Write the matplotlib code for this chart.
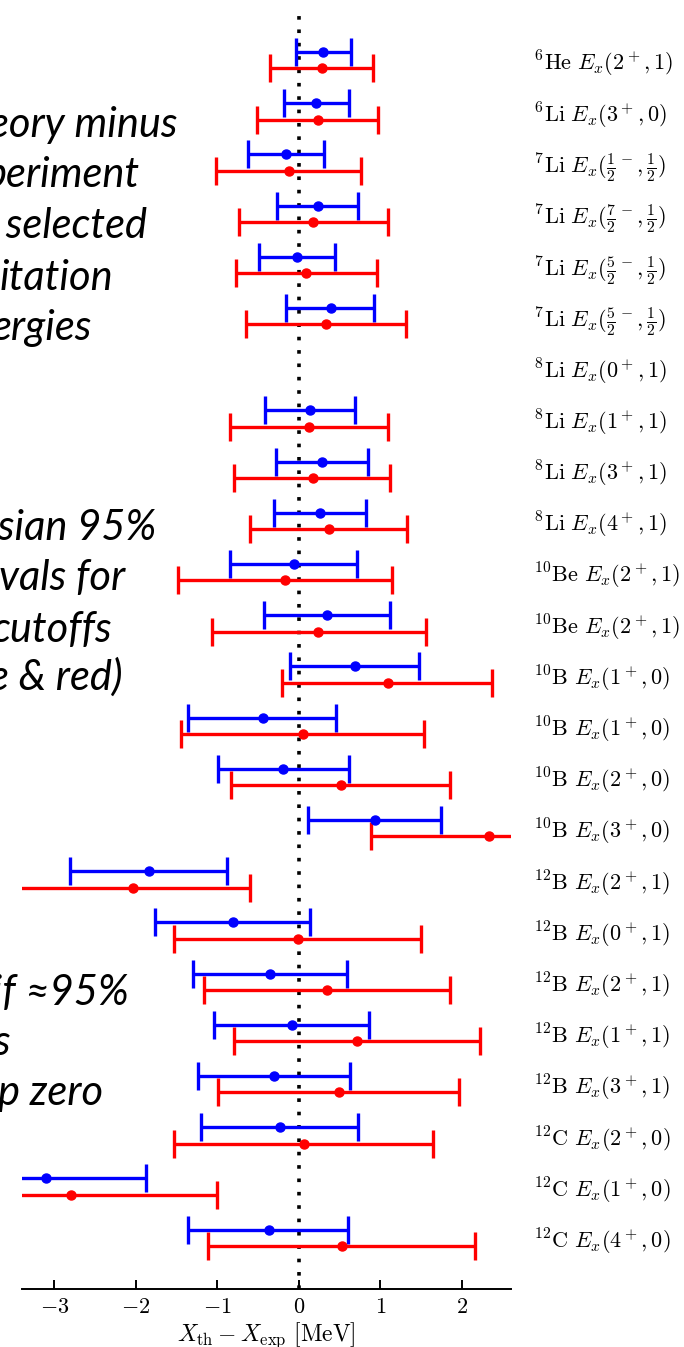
import matplotlib

matplotlib.use("Agg")
import matplotlib.pyplot as plt
import numpy as np

plt.rcParams["mathtext.fontset"] = "cm"

# states, top to bottom
nuclei = ["6He", "6Li", "7Li", "7Li", "7Li", "7Li", "8Li", "8Li", "8Li", "8Li",
          "10Be", "10Be", "10B", "10B", "10B", "10B", "12B", "12B", "12B", "12B",
          "12B", "12C", "12C", "12C"]
spins = ["2^+", "3^+", r"\frac{1}{2}^-", r"\frac{7}{2}^-", r"\frac{5}{2}^-", r"\frac{5}{2}^-",
         "0^+", "1^+", "3^+", "4^+", "2^+", "2^+", "1^+", "1^+", "2^+", "3^+",
         "2^+", "0^+", "2^+", "1^+", "3^+", "2^+", "1^+", "4^+"]
isospins = ["1", "0", r"\frac{1}{2}", r"\frac{1}{2}", r"\frac{1}{2}", r"\frac{1}{2}",
            "1", "1", "1", "1", "1", "1", "0", "0", "0", "0",
            "1", "1", "1", "1", "1", "0", "0", "0"]

# theory minus experiment [MeV], median and 95% interval, two cutoffs
nan = np.nan
blue_mid = [0.30, 0.215, -0.16, 0.24, -0.02, 0.39, nan, 0.14, 0.28, 0.26, -0.06, 0.35,
            0.69, -0.44, -0.19, 0.94, -1.84, -0.81, -0.35, -0.08, -0.30, -0.235, -3.10, -0.37]
blue_lo = [-0.03, -0.18, -0.62, -0.27, -0.49, -0.16, nan, -0.42, -0.28, -0.30, -0.84, -0.43,
           -0.11, -1.36, -0.99, 0.11, -2.81, -1.77, -1.30, -1.04, -1.24, -1.20, -4.30, -1.36]
blue_hi = [0.64, 0.62, 0.31, 0.73, 0.44, 0.92, nan, 0.69, 0.85, 0.82, 0.71, 1.12,
           1.47, 0.46, 0.62, 1.75, -0.88, 0.14, 0.59, 0.86, 0.63, 0.73, -1.87, 0.61]
red_mid = [0.28, 0.23, -0.125, 0.18, 0.09, 0.33, nan, 0.125, 0.17, 0.37, -0.17, 0.24,
           1.09, 0.055, 0.52, 2.34, -2.04, -0.01, 0.35, 0.72, 0.49, 0.06, -2.80, 0.53]
red_lo = [-0.35, -0.51, -1.01, -0.73, -0.77, -0.65, nan, -0.85, -0.79, -0.60, -1.48, -1.07,
          -0.20, -1.44, -0.83, 0.89, -3.90, -1.53, -1.16, -0.79, -0.99, -1.53, -4.50, -1.11]
red_hi = [0.91, 0.97, 0.76, 1.09, 0.96, 1.31, nan, 1.10, 1.12, 1.33, 1.14, 1.56,
          2.37, 1.54, 1.86, 3.60, -0.60, 1.50, 1.85, 2.22, 1.97, 1.65, -1.00, 2.16]

xticks = [-3, -2, -1, 0, 1, 2]


def state_label(nucleus, spin, iso):
    mass = "".join(c for c in nucleus if c.isdigit())
    elem = "".join(c for c in nucleus if c.isalpha())
    return rf"$^{{{mass}}}\mathrm{{{elem}}}\ E_x({spin},{iso})$"


fig = plt.figure(figsize=(6.84, 13.47), dpi=100)
ax = fig.add_axes([0.0317, 0.0431, 0.7149, 0.9502])

rows = np.arange(len(nuclei))
ax.axvline(0, color="black", lw=2.6, linestyle=(0, (1, 2.7)), dash_capstyle="butt", zorder=1)

for mid, lo, hi, color, shift in [
    (blue_mid, blue_lo, blue_hi, "#0000ff", -0.16),
    (red_mid, red_lo, red_hi, "#ff0000", 0.16),
]:
    mid, lo, hi = np.array(mid), np.array(lo), np.array(hi)
    ok = np.isfinite(mid)
    ax.errorbar(mid[ok], rows[ok] + shift, xerr=[mid[ok] - lo[ok], hi[ok] - mid[ok]],
                fmt="o", color=color, ms=6.5, lw=2.4, capsize=10, capthick=2.4, zorder=3)

ax.set_xlim(-3.4, 2.6)
ax.set_ylim(24, -1)
ax.set_xticks(xticks)
ax.set_xticklabels([rf"${v}$" for v in xticks])
ax.set_yticks(rows)
ax.set_yticklabels([state_label(n, s, t) for n, s, t in zip(nuclei, spins, isospins)])
ax.yaxis.tick_right()
ax.tick_params(axis="y", length=0, pad=17, labelsize=16)
ax.tick_params(axis="x", direction="in", length=6.5, width=1.4, labelsize=16, pad=6)
for side in ["left", "right", "top"]:
    ax.spines[side].set_visible(False)
ax.spines["bottom"].set_linewidth(1.4)
ax.set_xlabel(r"$X_{\rm th} - X_{\rm exp}\ [\mathrm{MeV}]$", fontsize=17, labelpad=2)

# slide annotations running off the left edge
notes = [
    ("eory minus", 177, 137), ("periment", 140, 187), (" selected", 147, 238),
    ("itation", 113, 290), ("ergies", 92, 340),
    ("esian 95%", 156, 540), ("vals for", 125, 590), ("cutoffs", 112, 642),
    ("e & red)", 123, 690),
    (" if \u224895%", 129, 1005), ("s", 10, 1055), ("p zero", 103, 1105),
]
H = 1347
for text, xr, yb in notes:
    fig.text(xr / 684, 1 - yb / H, text, ha="right", va="baseline",
             fontsize=30, style="italic", family=["Lato", "DejaVu Sans"])

fig.savefig("out.png", dpi=100)
